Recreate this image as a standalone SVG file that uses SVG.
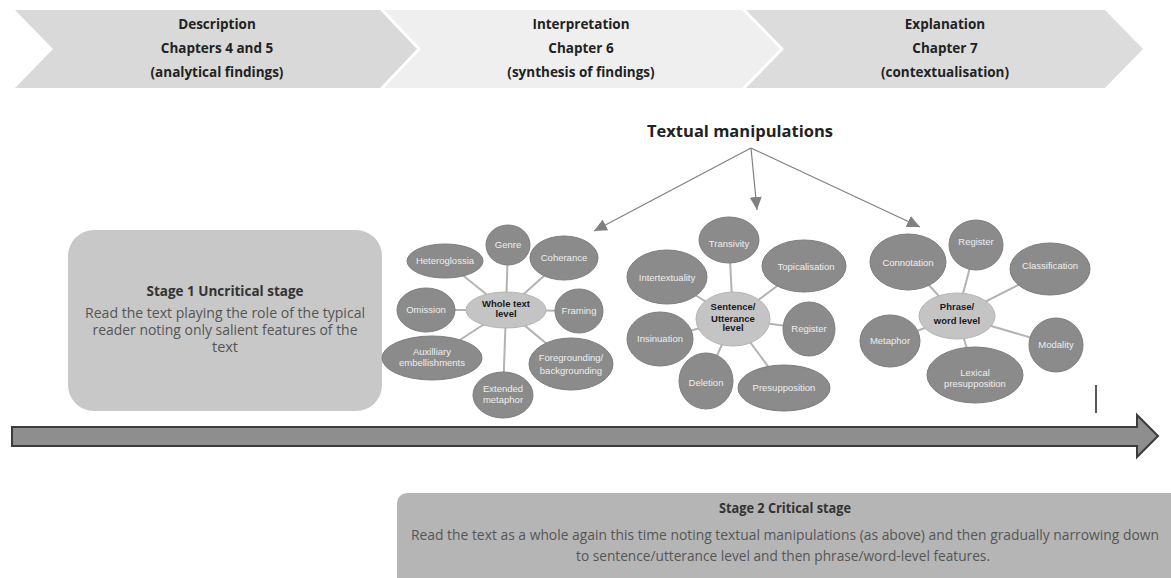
<svg xmlns="http://www.w3.org/2000/svg" width="1171" height="578" viewBox="0 0 1171 578">
<defs>
<style>
.chev-t{font-family:"Open Sans","Liberation Sans",sans-serif;font-weight:bold;font-size:13.5px;fill:#222;text-anchor:middle}
.sat{fill:#8b8b8b;stroke:#7d7d7d;stroke-width:1}
.hub{fill:#c4c4c4;stroke:#b5b5b5;stroke-width:1}
.sat-t{font-family:"Liberation Sans",Arial,sans-serif;font-size:9.5px;fill:#eeeeee;text-anchor:middle}
.hub-t{font-family:"Liberation Sans",Arial,sans-serif;font-size:9.5px;font-weight:bold;fill:#1a1a1a;text-anchor:middle}
.spoke{stroke:#b3b3b3;stroke-width:2}
.tm{stroke:#808080;stroke-width:1.2;fill:none}
.st-h{font-family:"Open Sans","Liberation Sans",sans-serif;font-weight:bold;font-size:14px;fill:#333;text-anchor:middle}
.st-b{font-family:"Open Sans","Liberation Sans",sans-serif;font-size:14px;fill:#555;text-anchor:middle}
</style>
<marker id="ah" markerUnits="userSpaceOnUse" markerWidth="14" markerHeight="12" refX="13" refY="6" orient="auto">
<path d="M0,0 L13,6 L0,12 Z" fill="#808080"/>
</marker>
</defs>
<rect width="1171" height="578" fill="#ffffff"/>

<g id="chevron-description">
<polygon points="15,10 380,10 417,49 380,88 15,88 53,49" fill="#d9d9d9"/>
<text class="chev-t" x="217" y="29">Description</text>
<text class="chev-t" x="217" y="53">Chapters 4 and 5</text>
<text class="chev-t" x="217" y="77">(analytical findings)</text>
</g>
<g id="chevron-interpretation">
<polygon points="384,10 742,10 780,49 742,88 384,88 421,49" fill="#efefef"/>
<text class="chev-t" x="581" y="29">Interpretation</text>
<text class="chev-t" x="581" y="53">Chapter 6</text>
<text class="chev-t" x="581" y="77">(synthesis of findings)</text>
</g>
<g id="chevron-explanation">
<polygon points="746,10 1105,10 1143,49 1105,88 746,88 784,49" fill="#dcdcdc"/>
<text class="chev-t" x="945" y="29">Explanation</text>
<text class="chev-t" x="945" y="53">Chapter 7</text>
<text class="chev-t" x="945" y="77">(contextualisation)</text>
</g>

<g id="textual-manipulations">
<text x="740" y="137" font-family="'Open Sans','Liberation Sans',sans-serif" font-weight="bold" font-size="16.5" fill="#222" text-anchor="middle">Textual manipulations</text>
</g>

<g id="connectors">
<line class="tm" x1="751" y1="148" x2="594" y2="231" marker-end="url(#ah)"/>
<line class="tm" x1="751" y1="148" x2="757" y2="210" marker-end="url(#ah)"/>
<line class="tm" x1="751" y1="148" x2="920" y2="227" marker-end="url(#ah)"/>
<line class="spoke" x1="506" y1="310" x2="508" y2="245"/>
<line class="spoke" x1="506" y1="310" x2="564" y2="258"/>
<line class="spoke" x1="506" y1="310" x2="445" y2="261"/>
<line class="spoke" x1="506" y1="310" x2="426" y2="310"/>
<line class="spoke" x1="506" y1="310" x2="579" y2="311"/>
<line class="spoke" x1="506" y1="310" x2="432" y2="358"/>
<line class="spoke" x1="506" y1="310" x2="571" y2="364"/>
<line class="spoke" x1="506" y1="310" x2="503" y2="395"/>
<line class="spoke" x1="733" y1="319" x2="729" y2="240"/>
<line class="spoke" x1="733" y1="319" x2="804" y2="266"/>
<line class="spoke" x1="733" y1="319" x2="667" y2="277"/>
<line class="spoke" x1="733" y1="319" x2="809" y2="329"/>
<line class="spoke" x1="733" y1="319" x2="660" y2="339"/>
<line class="spoke" x1="733" y1="319" x2="706" y2="381"/>
<line class="spoke" x1="733" y1="319" x2="784" y2="388"/>
<line class="spoke" x1="957" y1="316" x2="976" y2="245"/>
<line class="spoke" x1="957" y1="316" x2="908" y2="262"/>
<line class="spoke" x1="957" y1="316" x2="1050" y2="269"/>
<line class="spoke" x1="957" y1="316" x2="890" y2="341"/>
<line class="spoke" x1="957" y1="316" x2="1056" y2="345"/>
<line class="spoke" x1="957" y1="316" x2="975" y2="375"/>
</g>

<g id="stage1">
<rect x="68" y="230" width="314" height="181" rx="26" fill="#c8c8c8"/>
<text class="st-h" x="225" y="296" textLength="157" lengthAdjust="spacingAndGlyphs">Stage 1  Uncritical stage</text>
<text class="st-b" x="225" y="318" textLength="280" lengthAdjust="spacingAndGlyphs">Read the text playing the role of the typical</text>
<text class="st-b" x="225" y="335" textLength="265" lengthAdjust="spacingAndGlyphs">reader noting only salient features of the</text>
<text class="st-b" x="225" y="352" textLength="26" lengthAdjust="spacingAndGlyphs">text</text>
</g>

<g id="whole-text-level">
<ellipse class="sat" cx="508" cy="245" rx="22" ry="20"/><text class="sat-t" x="508" y="248">Genre</text>
<ellipse class="sat" cx="564" cy="258" rx="34" ry="22"/><text class="sat-t" x="564" y="261">Coherance</text>
<ellipse class="sat" cx="445" cy="261" rx="38" ry="17"/><text class="sat-t" x="445" y="264">Heteroglossia</text>
<ellipse class="sat" cx="426" cy="310" rx="29" ry="22"/><text class="sat-t" x="426" y="313">Omission</text>
<ellipse class="sat" cx="579" cy="311" rx="24" ry="22"/><text class="sat-t" x="579" y="314">Framing</text>
<ellipse class="sat" cx="432" cy="358" rx="50" ry="22"/><text class="sat-t" x="432" y="355">Auxilliary</text><text class="sat-t" x="432" y="366">embellishments</text>
<ellipse class="sat" cx="571" cy="364" rx="42" ry="26"/><text class="sat-t" x="571" y="361">Foregrounding/</text><text class="sat-t" x="571" y="374">backgrounding</text>
<ellipse class="sat" cx="503" cy="395" rx="30" ry="23"/><text class="sat-t" x="503" y="392">Extended</text><text class="sat-t" x="503" y="403">metaphor</text>
<ellipse class="hub" cx="506" cy="310" rx="40" ry="18"/><text class="hub-t" x="506" y="307">Whole text</text><text class="hub-t" x="506" y="317">level</text>
</g>

<g id="sentence-level">
<ellipse class="sat" cx="729" cy="240" rx="30" ry="23"/><text class="sat-t" x="729" y="247">Transivity</text>
<ellipse class="sat" cx="804" cy="266" rx="42" ry="26"/><text class="sat-t" x="806" y="270">Topicalisation</text>
<ellipse class="sat" cx="667" cy="277" rx="40" ry="27"/><text class="sat-t" x="667" y="281">Intertextuality</text>
<ellipse class="sat" cx="809" cy="329" rx="26" ry="27"/><text class="sat-t" x="809" y="332">Register</text>
<ellipse class="sat" cx="660" cy="339" rx="33" ry="27"/><text class="sat-t" x="660" y="342">Insinuation</text>
<ellipse class="sat" cx="706" cy="381" rx="27" ry="28"/><text class="sat-t" x="706" y="386">Deletion</text>
<ellipse class="sat" cx="784" cy="388" rx="46" ry="23"/><text class="sat-t" x="784" y="391">Presupposition</text>
<ellipse class="hub" cx="733" cy="319" rx="37" ry="27"/><text class="hub-t" x="733" y="310">Sentence/</text><text class="hub-t" x="733" y="322">Utterance</text><text class="hub-t" x="733" y="331">level</text>
</g>

<g id="phrase-level">
<ellipse class="sat" cx="976" cy="245" rx="27" ry="25"/><text class="sat-t" x="976" y="245">Register</text>
<ellipse class="sat" cx="908" cy="262" rx="38" ry="28"/><text class="sat-t" x="908" y="266">Connotation</text>
<ellipse class="sat" cx="1050" cy="269" rx="40" ry="26"/><text class="sat-t" x="1050" y="269">Classification</text>
<ellipse class="sat" cx="890" cy="341" rx="30" ry="26"/><text class="sat-t" x="890" y="344">Metaphor</text>
<ellipse class="sat" cx="1056" cy="345" rx="27" ry="27"/><text class="sat-t" x="1056" y="348">Modality</text>
<ellipse class="sat" cx="975" cy="375" rx="48" ry="28"/><text class="sat-t" x="975" y="376">Lexical</text><text class="sat-t" x="975" y="387">presupposition</text>
<ellipse class="hub" cx="957" cy="316" rx="38" ry="23"/><text class="hub-t" x="957" y="310">Phrase/</text><text class="hub-t" x="957" y="324">word level</text>
</g>

<g id="marker-line">
<line x1="1096" y1="385" x2="1096" y2="413" stroke="#222" stroke-width="1.5"/>
</g>

<g id="timeline-arrow">
<polygon points="12,427 1137,427 1137,415 1158,436 1137,457 1137,446 12,446" fill="#8e8e8e" stroke="#3c3c3c" stroke-width="2" stroke-linejoin="miter"/>
</g>

<g id="stage2">
<rect x="397" y="493" width="790" height="100" rx="10" fill="#b5b5b5"/>
<text class="st-h" x="785" y="513" textLength="132" lengthAdjust="spacingAndGlyphs">Stage 2 Critical stage</text>
<text class="st-b" x="785" y="540" textLength="748" lengthAdjust="spacingAndGlyphs">Read the text as a whole again this time noting textual manipulations (as above) and then gradually narrowing down</text>
<text class="st-b" x="783" y="561" textLength="414" lengthAdjust="spacingAndGlyphs">to sentence/utterance  level and then phrase/word-level features.</text>
</g>
</svg>
